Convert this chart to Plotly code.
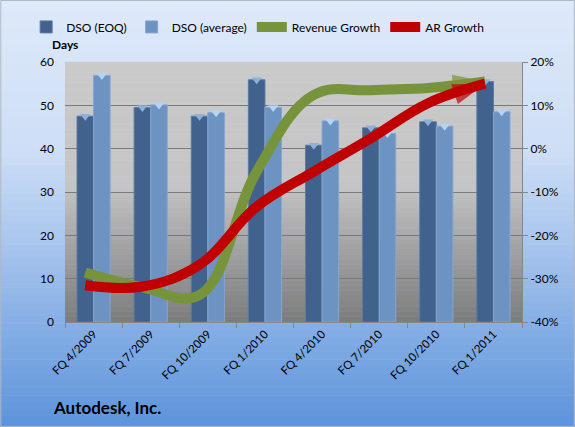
import plotly.graph_objects as go

categories = ["FQ 4/2009", "FQ 7/2009", "FQ 10/2009", "FQ 1/2010",
              "FQ 4/2010", "FQ 7/2010", "FQ 10/2010", "FQ 1/2011"]
dso_eoq = [47.5, 49.5, 47.5, 55.9, 40.8, 44.8, 46.2, 55.5]
dso_avg = [56.9, 50.1, 48.3, 49.5, 46.4, 43.5, 45.2, 48.5]
revenue_growth = [-28.6, -32.0, -33.8, -5.3, 12.4, 13.5, 14.0, 15.5]
ar_growth = [-31.5, -31.8, -26.8, -13.4, -5.3, 2.4, 10.5, 15.0]
left_ticks = [0, 10, 20, 30, 40, 50, 60]
right_ticks = [-40, -30, -20, -10, 0, 10, 20]
right_labels = ["-40%", "-30%", "-20%", "-10%", "0%", "10%", "20%"]

FONT = "Lato, 'Liberation Sans', sans-serif"
GREEN = "#77933c"
RED = "#c00000"


def lerp(c1, c2, t):
    return "#%02x%02x%02x" % tuple(int(round(a + (b - a) * t)) for a, b in zip(c1, c2))


shapes = []
# paper background gradient
N = 60
top_c, mid_c, bot_c = (222, 233, 250), (205, 222, 246), (92, 147, 219)
for i in range(N):
    y0 = 1.24 - (1.24 + 0.42) * i / N
    y1 = 1.24 - (1.24 + 0.42) * (i + 1) / N
    t = i / (N - 1)
    if t < 0.35:
        col = lerp(top_c, mid_c, t / 0.35)
    else:
        col = lerp(mid_c, bot_c, (t - 0.35) / 0.65)
    shapes.append(dict(type="rect", xref="paper", yref="paper", x0=-0.2, x1=1.2,
                       y0=y1 - 0.002, y1=y0, fillcolor=col, line_width=0, layer="below"))
# plot area gradient
M = 50
for i in range(M):
    y1 = 1 - i / M
    y0 = 1 - (i + 1) / M
    mid = 1 - (i + 0.5) / M
    if mid > 0.5:
        col = lerp((202, 202, 202), (196, 196, 196), (1 - mid) / 0.5)
    else:
        col = lerp((192, 192, 192), (124, 124, 124), (0.5 - mid) / 0.5)
    shapes.append(dict(type="rect", xref="x domain", yref="y domain", x0=0, x1=1,
                       y0=y0, y1=y1 + 0.001, fillcolor=col, line_width=0, layer="below"))
# outer border
shapes.append(dict(type="rect", xref="paper", yref="paper", x0=-0.1405, x1=1.1145,
                   y0=-0.4015, y1=1.2365, line=dict(color="#b0b8c4", width=1),
                   fillcolor="rgba(0,0,0,0)", layer="above"))

fig = go.Figure()
fig.add_trace(go.Bar(x=categories, y=dso_eoq, name="DSO (EOQ)", offsetgroup="a",
                     marker=dict(color="#41628c", line=dict(color="#5c7aa3", width=1))))
fig.add_trace(go.Bar(x=categories, y=dso_avg, name="DSO (average)", offsetgroup="b",
                     marker=dict(color="#6d93c3", line=dict(color="#86a6cf", width=1))))
# glossy caps on bar tops
for vals, grp, capcol in [(dso_eoq, "a", "#8fb0d8"), (dso_avg, "b", "#b5d3f3")]:
    fig.add_trace(go.Scatter(x=categories, y=vals, mode="markers", offsetgroup=grp,
                             showlegend=False, hoverinfo="skip",
                             marker=dict(symbol="triangle-down", size=9, color=capcol,
                                         line=dict(width=0))))

for vals, name, col, w in [(revenue_growth, "Revenue Growth", GREEN, 10),
                           (ar_growth, "AR Growth", RED, 10)]:
    fig.add_trace(go.Scatter(x=categories, y=vals, name=name,
                             mode="lines", yaxis="y2",
                             line=dict(color=col, width=w, shape="spline", smoothing=1.1)))
    fig.add_trace(go.Scatter(x=categories[-2:], y=vals[-2:], mode="markers", yaxis="y2",
                             showlegend=False, hoverinfo="skip",
                             marker=dict(symbol="arrow", angleref="previous",
                                         size=[0, 34], color=col,
                                         line=dict(width=0))))

fig.update_layout(
    width=575, height=427,
    margin=dict(l=65, r=53, t=62, b=105, autoexpand=False),
    paper_bgcolor="#dde8f8",
    plot_bgcolor="rgba(0,0,0,0)",
    barmode="group", bargap=0.42, bargroupgap=0,
    scattermode="group", scattergap=0.42,
    font=dict(family=FONT, size=12, color="#000000"),
    shapes=shapes,
    showlegend=True,
    legend=dict(orientation="h", x=-0.085, y=1.135, xanchor="left", yanchor="middle",
                bgcolor="rgba(0,0,0,0)", font=dict(size=12), itemwidth=30,
                traceorder="normal"),
    xaxis=dict(type="category", tickangle=-45, showline=True, linecolor="#868686",
               ticks="outside", tickson="boundaries", ticklen=5, tickcolor="#868686",
               showgrid=False, tickfont=dict(size=11.5), zeroline=False),
    yaxis=dict(range=[0, 60], tickvals=left_ticks, showgrid=True, gridcolor="#7a7a7a",
               gridwidth=1, showline=False, ticks="", zeroline=False,
               tickfont=dict(size=12), ticklabelstandoff=10),
    yaxis2=dict(range=[-40, 20], tickvals=right_ticks, ticktext=right_labels,
                overlaying="y", side="right", showgrid=False, showline=True,
                linecolor="#868686", ticks="outside", ticklen=5, tickcolor="#868686",
                zeroline=False, tickfont=dict(size=12)),
    annotations=[
        dict(text="<b>Days</b>", xref="paper", yref="paper", x=0.0, y=1.068,
             xanchor="center", yanchor="middle", showarrow=False, font=dict(size=12)),
        dict(text="<b>Autodesk, Inc.</b>", xref="paper", yref="paper", x=-0.03, y=-0.33,
             xanchor="left", yanchor="middle", showarrow=False, font=dict(size=17)),
    ],
)

fig.write_html("out.html", config={"displayModeBar": False},
               post_script="document.body.style.margin='0';document.body.style.padding='0';")
